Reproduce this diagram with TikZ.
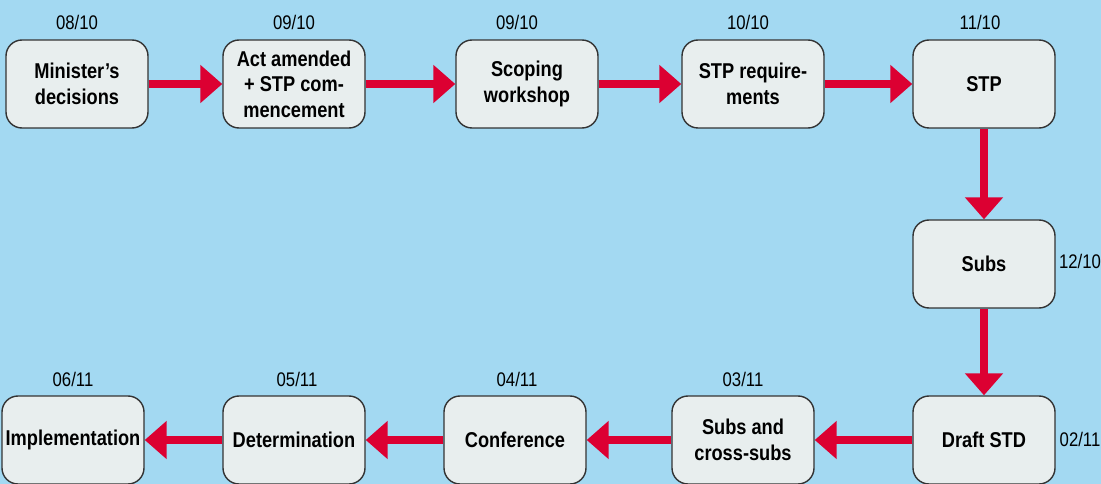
\documentclass[tikz,border=0pt]{standalone}
\usepackage{fontspec}
\setmainfont[FakeStretch=0.85]{Liberation Sans}
\usetikzlibrary{arrows.meta}
\definecolor{skyback}{RGB}{163,217,242}
\definecolor{boxfill}{RGB}{232,238,238}
\definecolor{flowred}{RGB}{220,0,50}
\tikzset{
  stage/.style={draw=black!80,line width=0.8pt,fill=boxfill,rounded corners=0.32cm,
    minimum width=2.84cm,minimum height=1.76cm,align=center,inner sep=1pt,
    font=\bfseries\fontsize{12.2}{14.6}\selectfont},
  datelbl/.style={font=\fontsize{11.2}{13}\selectfont},
  flow/.style={draw=flowred,line width=5pt,-{Triangle[width=21pt,length=12.5pt]}}
}
\begin{document}
\begin{tikzpicture}
  \fill[skyback] (0,0) rectangle (22.02,-9.68);
  \useasboundingbox (0,0) rectangle (22.02,-9.68);
  % top row
  \node[stage] (minister) at (1.54,-1.68) {Minister’s\\decisions};
  \node[stage] (act) at (5.88,-1.68) {Act amended\\+ STP com-\\mencement};
  \node[stage] (scoping) at (10.54,-1.68) {Scoping\\workshop};
  \node[stage] (req) at (15.06,-1.68) {STP require-\\ments};
  \node[stage] (stp) at (19.68,-1.68) {STP};
  % right column
  \node[stage] (subs) at (19.68,-5.28) {Subs};
  % bottom row
  \node[stage] (draft) at (19.68,-8.8) {Draft STD};
  \node[stage] (cross) at (14.86,-8.8) {Subs and\\cross-subs};
  \node[stage] (conf) at (10.3,-8.8) {Conference};
  \node[stage] (determ) at (5.88,-8.8) {Determination};
  \node[stage] (impl) at (1.46,-8.8) {Implementation};

  % dates
  \node[datelbl] (d1) at (1.54,-0.44) {08/10};
  \node[datelbl] (d2) at (5.88,-0.44) {09/10};
  \node[datelbl] (d3) at (10.34,-0.44) {09/10};
  \node[datelbl] (d4) at (14.96,-0.44) {10/10};
  \node[datelbl] (d5) at (19.6,-0.44) {11/10};
  \node[datelbl] (d6) at (21.6,-5.22) {12/10};
  \node[datelbl] (d7) at (21.6,-8.78) {02/11};
  \node[datelbl] (d8) at (14.86,-7.58) {03/11};
  \node[datelbl] (d9) at (10.34,-7.58) {04/11};
  \node[datelbl] (d10) at (5.94,-7.58) {05/11};
  \node[datelbl] (d11) at (1.46,-7.58) {06/11};

  \draw[flow] (minister) -- (act);
  \draw[flow] (act) -- (scoping);
  \draw[flow] (scoping) -- (req);
  \draw[flow] (req) -- (stp);
  \draw[flow] (stp) -- (subs);
  \draw[flow] (subs) -- (draft);
  \draw[flow] (draft) -- (cross);
  \draw[flow] (cross) -- (conf);
  \draw[flow] (conf) -- (determ);
  \draw[flow] (determ) -- (impl);
\end{tikzpicture}
\end{document}
